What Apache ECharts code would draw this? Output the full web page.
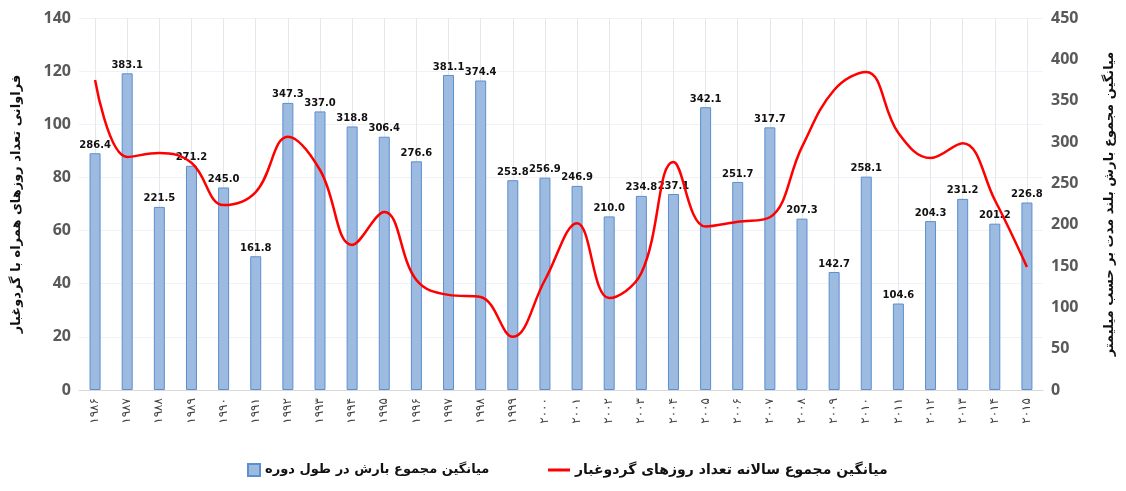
<!DOCTYPE html>
<html>
<head>
<meta charset="utf-8">
<script src="https://cdn.jsdelivr.net/npm/echarts@6/dist/echarts.min.js"></script>
<style>
  html, body { margin: 0; padding: 0; background: #fff; }
  #main { width: 1126px; height: 491px; }
</style>
</head>
<body>
<div id="main"></div>
<script>
const years = ["۱۹۸۶", "۱۹۸۷", "۱۹۸۸", "۱۹۸۹", "۱۹۹۰", "۱۹۹۱", "۱۹۹۲", "۱۹۹۳", "۱۹۹۴", "۱۹۹۵",
  "۱۹۹۶", "۱۹۹۷", "۱۹۹۸", "۱۹۹۹", "۲۰۰۰", "۲۰۰۱", "۲۰۰۲", "۲۰۰۳", "۲۰۰۴", "۲۰۰۵",
  "۲۰۰۶", "۲۰۰۷", "۲۰۰۸", "۲۰۰۹", "۲۰۱۰", "۲۰۱۱", "۲۰۱۲", "۲۰۱۳", "۲۰۱۴", "۲۰۱۵"];

// mean total rainfall (mm), right axis
const rainfall = [286.4, 383.1, 221.5, 271.2, 245.0, 161.8, 347.3, 337.0, 318.8, 306.4,
  276.6, 381.1, 374.4, 253.8, 256.9, 246.9, 210.0, 234.8, 237.1, 342.1,
  251.7, 317.7, 207.3, 142.7, 258.1, 104.6, 204.3, 231.2, 201.2, 226.8];

// dust days per year, left axis
const dustDays = [116.7, 87.7, 89.2, 85.5, 69.6, 74.5, 95.3, 82.8, 54.6, 67.0,
  41.4, 35.8, 35.0, 20.0, 41.4, 62.8, 34.6, 44.0, 85.8, 61.5,
  63.3, 65.0, 91.5, 112.9, 119.7, 96.7, 87.3, 92.9, 71.5, 46.3];

const barName = "میانگین مجموع بارش در طول دوره";
const lineName = "میانگین مجموع سالانه تعداد روزهای گردوغبار";
const leftName = "فراوانی تعداد روزهای همراه با گردوغبار";
const rightName = "میانگین مجموع بارش بلند مدت بر حسب میلیمتر";

const chart = echarts.init(document.getElementById("main"));

const axisLabelStyle = { color: "#595959", fontSize: 16, fontWeight: "bold", fontFamily: "Open Sans" };

const option = {
  animation: false,
  textStyle: { fontFamily: "DejaVu Sans" },
  grid: { left: 79, right: 83, top: 18, bottom: 101 },
  legend: [
    {
      data: [barName],
      left: 242, top: 458,
      itemWidth: 12, itemHeight: 12, icon: "rect",
      textStyle: { color: "#111", fontSize: 13, fontWeight: "bold", fontFamily: "DejaVu Sans" }
    },
    {
      data: [lineName],
      left: 543, top: 458,
      itemWidth: 22, itemHeight: 3,
      icon: "rect",
      textStyle: { color: "#111", fontSize: 14, fontWeight: "bold", fontFamily: "DejaVu Sans" }
    }
  ],
  xAxis: {
    type: "category",
    data: years,
    axisLine: { lineStyle: { color: "#d9d9d9" } },
    axisTick: { show: false },
    splitLine: { show: true, alignWithLabel: true, lineStyle: { color: "#e3e8ee" } },
    axisLabel: { rotate: 90, color: "#444", fontSize: 12, margin: 8, interval: 0 }
  },
  yAxis: [
    {
      type: "value",
      min: 0, max: 140, interval: 20,
      name: leftName,
      nameLocation: "middle",
      nameRotate: 90,
      nameGap: 56,
      nameTextStyle: { color: "#111", fontSize: 13, fontWeight: "bold" },
      axisLabel: axisLabelStyle,
      axisLine: { show: false },
      splitLine: { lineStyle: { color: "#f0f2f5" } }
    },
    {
      type: "value",
      min: 0, max: 450, interval: 50,
      name: rightName,
      nameLocation: "middle",
      nameRotate: 90,
      nameGap: 60,
      nameTextStyle: { color: "#111", fontSize: 13, fontWeight: "bold" },
      axisLabel: axisLabelStyle,
      axisLine: { show: false },
      splitLine: { show: false }
    }
  ],
  series: [
    {
      name: barName,
      type: "bar",
      yAxisIndex: 1,
      data: rainfall,
      barWidth: 11,
      itemStyle: { color: "#9dbbe0", borderColor: "#5b8fcf", borderWidth: 1 },
      label: {
        show: true,
        position: "top",
        distance: 3,
        color: "#111",
        fontSize: 10,
        fontWeight: "bold",
        fontFamily: "DejaVu Sans",
        formatter: p => p.value.toFixed(1)
      }
    },
    {
      name: lineName,
      type: "line",
      yAxisIndex: 0,
      data: dustDays,
      smooth: 0.4,
      symbol: "none",
      lineStyle: { color: "#ff0000", width: 2.5 },
      itemStyle: { color: "#ff0000" },
      z: 3
    }
  ]
};

option && chart.setOption(option);
</script>
</body>
</html>
